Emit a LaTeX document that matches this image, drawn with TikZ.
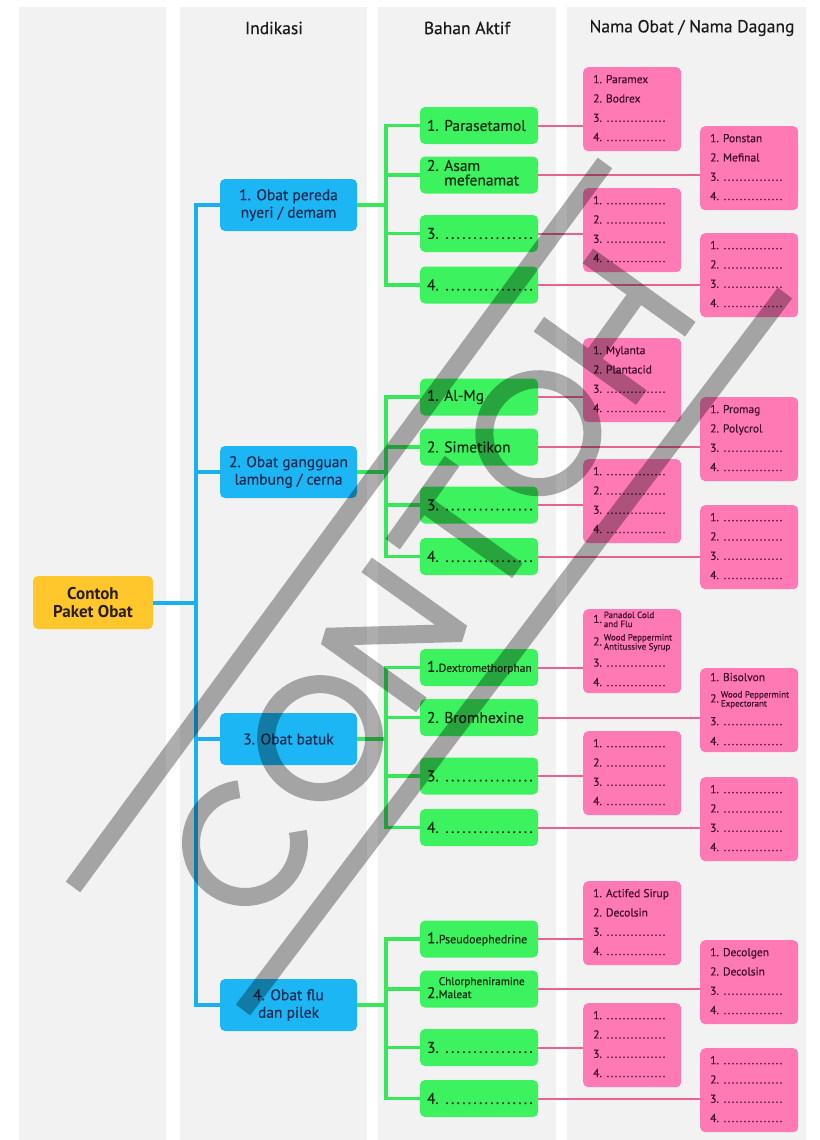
\documentclass[tikz,border=0pt]{standalone}
\usepackage{fontspec}
\setmainfont{PT Sans}[UprightFeatures={FakeBold=0.35}]
\definecolor{colbg}{HTML}{F2F2F2}
\definecolor{yel}{HTML}{FFC72C}
\definecolor{blu}{HTML}{1CB6F4}
\definecolor{bluline}{HTML}{1AB0F0}
\definecolor{grn}{HTML}{3CF25E}
\definecolor{grnline}{HTML}{38E85A}
\definecolor{pnk}{HTML}{FF79B5}
\definecolor{pnkline}{HTML}{E8638E}
\definecolor{navy}{HTML}{142A50}
\definecolor{darkg}{HTML}{0E2A14}
\definecolor{plum}{HTML}{3E0E2A}
\definecolor{txtdark}{HTML}{2A1E0A}
\definecolor{hdrc}{HTML}{1A1A1A}
\newcommand\gdots[2]{\hbox to #1{\leaders\hbox to #2{\hss.\hss}\hfill}}
\newcommand\pdots{\gdots{60pt}{4pt}}
\newcommand\bdots{\gdots{92pt}{5.6pt}}
\newcommand\btx[1]{\hbox to 118pt{\hskip 7pt #1\hss}}
\newcommand\pkrowh[2]{\hbox to 98pt{\hskip 10pt\vbox to #1{\vfil\hbox{\vphantom{Ay}#2}\vfil}\hss}}
\newcommand\pkrow[1]{\pkrowh{19.3pt}{#1}}
\newcommand\pkrows[4]{\vbox{\offinterlineskip\pkrow{#1}\pkrow{#2}\pkrow{#3}\pkrow{#4}}}
\newcommand\smtab[2][c]{{\fontsize{9}{9}\selectfont\begin{tabular}[#1]{@{}l@{}}#2\end{tabular}}}
\tikzset{
 colbox/.style={fill=colbg, draw=none},
 rootbox/.style={fill=yel, rounded corners=5pt, minimum width=120pt, minimum height=53pt, inner sep=0pt, align=center, text=txtdark, font=\bfseries\fontsize{17}{18.5}\selectfont},
 indbox/.style={fill=blu, rounded corners=5pt, minimum width=137pt, minimum height=52pt, inner sep=0pt, align=center, text=navy, font=\fontsize{15.5}{17.5}\selectfont},
 babox/.style={fill=grn, rounded corners=5pt, minimum width=118pt, minimum height=37pt, inner sep=0pt, text=darkg, font=\fontsize{15.5}{16}\selectfont},
 pkbox/.style={fill=pnk, rounded corners=5pt, minimum height=84pt, inner sep=0pt, anchor=north west, text=plum, font=\fontsize{11.5}{13}\selectfont},
 hdr/.style={text=hdrc, font=\fontsize{17.5}{19}\selectfont},
 bl/.style={draw=bluline, line width=4pt},
 gl/.style={draw=grnline, line width=3.3pt},
 pl/.style={draw=pnkline, line width=2pt},
 wm/.style={draw=black, line width=18pt, line join=miter},
}
\begin{document}
\begin{tikzpicture}[x=1pt,y=-1pt]
\useasboundingbox (0,0) rectangle (819,1140);
\fill[white] (0,0) rectangle (819,1140);
% columns
\fill[colbox] (19,7) rectangle (166,1140);
\fill[colbox] (180,7) rectangle (367,1140);
\fill[colbox] (378,7) rectangle (556,1140);
\fill[colbox] (567,7) rectangle (806,1140);
% headers
\node[hdr] (h1) at (274,28) {Indikasi};
\node[hdr] (h2) at (467,28) {Bahan Aktif};
\node[hdr] (h3) at (692,28) {Nama Obat / Nama Dagang};
% helper x coordinates
\coordinate (tx) at (196,0);
\coordinate (gx) at (386,0);
% root
\node[rootbox] (root) at (93,602.5) {Contoh\\Paket Obat};
% indications
\node[indbox] (i1) at (288.5,205) {1. Obat pereda\\nyeri / demam};
\node[indbox] (i2) at (288.5,472) {2. Obat gangguan\\lambung / cerna};
\node[indbox] (i3) at (288.5,739) {3. Obat batuk};
\node[indbox] (i4) at (288.5,1005) {4. Obat flu\\dan pilek};
% active ingredients group 1
\node[babox] (b11) at (479,125.5) {\btx{1. Parasetamol}};
\node[babox] (b12) at (479,175) {\btx{2. \begin{tabular}[t]{@{}l@{}}Asam\\[-1.5pt]mefenamat\end{tabular}}};
\node[babox] (b13) at (479,233.5) {\btx{\raisebox{-4pt}{3. \bdots}}};
\node[babox] (b14) at (479,285) {\btx{\raisebox{-4pt}{4. \bdots}}};
% group 2
\node[babox] (b21) at (479,397) {\btx{1. Al-Mg}};
\node[babox] (b22) at (479,447) {\btx{2. Simetikon}};
\node[babox] (b23) at (479,505) {\btx{\raisebox{-4pt}{3. \bdots}}};
\node[babox] (b24) at (479,556.5) {\btx{\raisebox{-4pt}{4. \bdots}}};
% group 3
\node[babox] (b31) at (479,667.5) {\btx{1.{\fontsize{11.5}{12}\selectfont Dextromethorphan}}};
\node[babox] (b32) at (479,717.5) {\btx{2. Bromhexine}};
\node[babox] (b33) at (479,776) {\btx{\raisebox{-4pt}{3. \bdots}}};
\node[babox] (b34) at (479,827.5) {\btx{\raisebox{-4pt}{4. \bdots}}};
% group 4
\node[babox] (b41) at (479,939) {\btx{1.{\fontsize{12}{12}\selectfont Pseudoephedrine}}};
\node[babox] (b42) at (479,989) {\btx{2.{\fontsize{11.2}{13}\selectfont\begin{tabular}[b]{@{}l@{}}Chlorpheniramine\\Maleat\end{tabular}}}};
\node[babox] (b43) at (479,1047.5) {\btx{\raisebox{-4pt}{3. \bdots}}};
\node[babox] (b44) at (479,1098.5) {\btx{\raisebox{-4pt}{4. \bdots}}};
% brand boxes group 1
\node[pkbox] (p11) at (583,67) {\pkrows{1. Paramex}{2. Bodrex}{3. \pdots}{4. \pdots}};
\node[pkbox] (p12) at (700,126) {\pkrows{1. Ponstan}{2. Mefinal}{3. \pdots}{4. \pdots}};
\node[pkbox] (p13) at (583,188) {\pkrows{1. \pdots}{2. \pdots}{3. \pdots}{4. \pdots}};
\node[pkbox] (p14) at (700,233) {\pkrows{1. \pdots}{2. \pdots}{3. \pdots}{4. \pdots}};
% group 2
\node[pkbox] (p21) at (583,338) {\pkrows{1. Mylanta}{2. Plantacid}{3. \pdots}{4. \pdots}};
\node[pkbox] (p22) at (700,397) {\pkrows{1. Promag}{2. Polycrol}{3. \pdots}{4. \pdots}};
\node[pkbox] (p23) at (583,459) {\pkrows{1. \pdots}{2. \pdots}{3. \pdots}{4. \pdots}};
\node[pkbox] (p24) at (700,505) {\pkrows{1. \pdots}{2. \pdots}{3. \pdots}{4. \pdots}};
% group 3
\node[pkbox] (p31) at (583,609) {\vbox{\offinterlineskip
  \pkrowh{23pt}{1.\,\smtab{Panadol Cold\\and Flu}}
  \pkrowh{22pt}{2.\,\smtab{Wood Peppermint\\Antitussive Syrup}}
  \pkrowh{19pt}{3. \pdots}
  \pkrowh{20pt}{4. \pdots}}};
\node[pkbox] (p32) at (700,668) {\vbox{\offinterlineskip
  \pkrowh{20pt}{1. Bisolvon}
  \pkrowh{24pt}{2.\,\smtab{Wood Peppermint\\Expectorant}}
  \pkrowh{20pt}{3. \pdots}
  \pkrowh{20pt}{4. \pdots}}};
\node[pkbox] (p33) at (583,731) {\pkrows{1. \pdots}{2. \pdots}{3. \pdots}{4. \pdots}};
\node[pkbox] (p34) at (700,777) {\pkrows{1. \pdots}{2. \pdots}{3. \pdots}{4. \pdots}};
% group 4
\node[pkbox] (p41) at (583,881) {\pkrows{1. Actifed Sirup}{2. Decolsin}{3. \pdots}{4. \pdots}};
\node[pkbox] (p42) at (700,940) {\pkrows{1. Decolgen}{2. Decolsin}{3. \pdots}{4. \pdots}};
\node[pkbox] (p43) at (583,1003) {\pkrows{1. \pdots}{2. \pdots}{3. \pdots}{4. \pdots}};
\node[pkbox] (p44) at (700,1048) {\pkrows{1. \pdots}{2. \pdots}{3. \pdots}{4. \pdots}};
% blue connectors
\draw[bl] (root.east) -- (root.east -| tx);
\draw[bl] (i1.west) -- (i1.west -| tx) -- (i4.west -| tx) -- (i4.west);
\draw[bl] (i2.west -| tx) -- (i2.west);
\draw[bl] (i3.west -| tx) -- (i3.west);
% green and pink connectors
\foreach \g in {1,2,3,4}{
  \draw[gl] (i\g.east) -- (i\g.east -| gx);
  \draw[gl] (b\g1.west) -- (b\g1.west -| gx) -- (b\g4.west -| gx) -- (b\g4.west);
  \draw[gl] (b\g2.west -| gx) -- (b\g2.west);
  \draw[gl] (b\g3.west -| gx) -- (b\g3.west);
  \foreach \k in {1,2,3,4}{
    \draw[pl] (b\g\k.east) -- (b\g\k.east -| p\g\k.west);
  }
}
% watermark
\begin{scope}[transparency group, opacity=0.32]
  \draw[wm] (73,887) -- (605,163);
  \draw[wm] (243,1010) -- (785,293);
  \begin{scope}[shift={(245,843)}, rotate=54.4]
    \draw[wm] (42:54) arc[start angle=42, end angle=318, radius=54];
    \draw[wm] (129,0) circle[radius=54];
    \draw[wm, line join=bevel] (215,63) -- (215,-54) -- (297,54) -- (297,-63);
    \draw[wm] (329,-54) -- (431,-54);
    \draw[wm] (380,-54) -- (380,63);
    \draw[wm] (504,0) circle[radius=54];
    \draw[wm] (593,-63) -- (593,63);
    \draw[wm] (677,-63) -- (677,63);
    \draw[wm] (593,0) -- (677,0);
  \end{scope}
\end{scope}
\end{tikzpicture}
\end{document}
